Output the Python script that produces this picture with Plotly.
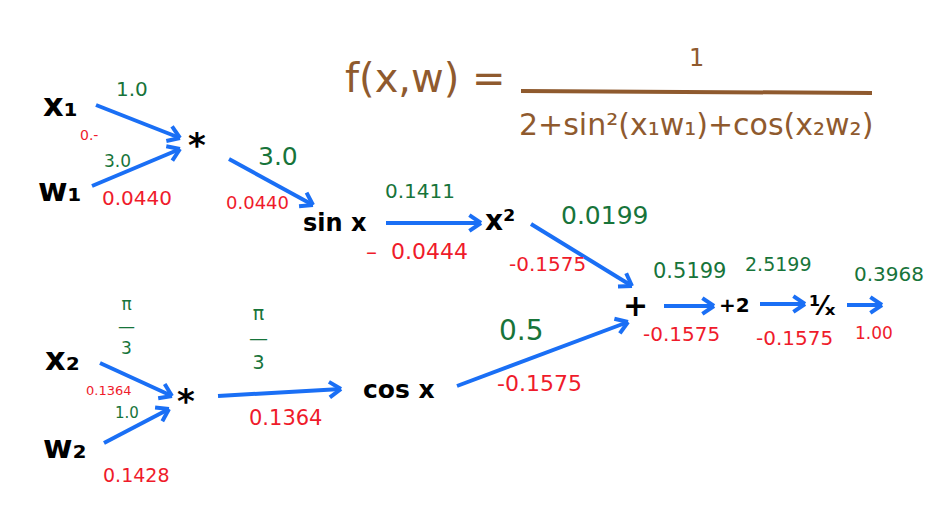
import math
import plotly.graph_objects as go

# computational graph of f(x,w) = 1 / (2 + sin^2(x1 w1) + cos(x2 w2))
node_labels = ["x₁", "w₁", "*", "sin x", "x²", "+", "+2", "¹⁄ₓ", "x₂", "w₂", "*", "cos x"]
edge_names = ["x1>*", "w1>*", "*>sin", "sin>sq", "sq>+", "cos>+", "+>+2", "+2>inv", "inv>out",
              "x2>*", "w2>*", "*>cos"]
forward_values = ["1.0", "3.0", "3.0", "0.1411", "0.0199", "0.5", "0.5199", "2.5199", "0.3968",
                  "π<br>—<br>3", "1.0", "π<br>—<br>3"]
gradients = ["0.-", "0.0440", "0.0440", "–  0.0444", "-0.1575", "-0.1575", "-0.1575", "-0.1575",
             "1.00", "0.1364", "0.1428", "0.1364"]
formula_left = "f(x,w) ="
formula_num = "1"
formula_den = "2+sin²(x₁w₁)+cos(x₂w₂)"

# positions (pixels of the page, y down)
node_pos = [(52, 97), (52, 182), (189, 137), (327, 215), (492, 212), (627, 297),
            (726, 297), (814, 298), (54, 351), (57, 439), (178, 393), (391, 381)]
node_size = [32, 32, 34, 24, 28, 30, 20, 26, 32, 32, 34, 25]
arrow_tail = [(88, 97), (84, 178), (221, 151), (378, 215), (523, 216), (449, 378),
              (656, 298), (752, 296), (839, 297), (92, 355), (96, 435), (210, 388)]
arrow_head = [(172, 130), (172, 141), (305, 197), (473, 215), (624, 278), (620, 314),
              (706, 298), (797, 296), (874, 297), (164, 388), (161, 401), (333, 381)]
fwd_pos = [(124, 81), (109, 153), (270, 148), (412, 183), (596, 207), (513, 322),
           (681, 263), (770, 256), (881, 266), (118, 318), (119, 405), (250, 329)]
fwd_size = [20, 17, 25, 20, 25, 28, 21, 19, 20, 17, 15, 19]
grad_pos = [(81, 127), (129, 190), (249, 194), (409, 243), (539, 256), (531, 375),
            (673, 326), (786, 330), (866, 325), (101, 382), (128, 467), (277, 410)]
grad_size = [14, 20, 18, 22, 20, 22, 20, 20, 17, 13, 19, 21]

GREEN = "#17743a"
RED = "#ef1b2b"
BLUE = "#1a6ff5"
BROWN = "#8f5a2e"
HAND = "DejaVu Sans"

fig = go.Figure()

# arrows: shafts and open chevron heads in one line trace
ax_x, ax_y = [], []
for (x0, y0), (x1, y1) in zip(arrow_tail, arrow_head):
    ang = math.atan2(y1 - y0, x1 - x0)
    ax_x += [x0, x1, None]
    ax_y += [y0, y1, None]
    for da in (2.55, -2.55):
        ax_x += [x1, x1 + 14 * math.cos(ang + da), None]
        ax_y += [y1, y1 + 14 * math.sin(ang + da), None]
fig.add_trace(go.Scatter(x=ax_x, y=ax_y, mode="lines", line=dict(color=BLUE, width=4),
                         hoverinfo="skip", showlegend=False))

for lab, (x, y), s in zip(node_labels, node_pos, node_size):
    fig.add_annotation(x=x, y=y, text="<b>" + lab + "</b>", showarrow=False,
                       font=dict(family=HAND, size=s, color="black"))

for v, (x, y), s in zip(forward_values, fwd_pos, fwd_size):
    fig.add_annotation(x=x, y=y, text=v, showarrow=False,
                       font=dict(family=HAND, size=s, color=GREEN))

for g, (x, y), s in zip(gradients, grad_pos, grad_size):
    fig.add_annotation(x=x, y=y, text=g, showarrow=False,
                       font=dict(family=HAND, size=s, color=RED))

# formula
fig.add_annotation(x=417, y=70, text=formula_left, showarrow=False,
                   font=dict(family=HAND, size=40, color=BROWN))
fig.add_annotation(x=688, y=50, text=formula_num, showarrow=False,
                   font=dict(family=HAND, size=24, color=BROWN))
fig.add_annotation(x=688, y=116, text=formula_den, showarrow=False,
                   font=dict(family=HAND, size=30, color=BROWN))
fig.add_shape(type="line", x0=513, y0=83, x1=864, y1=85, line=dict(color=BROWN, width=4))

fig.update_xaxes(range=[0, 951], visible=False, fixedrange=True)
fig.update_yaxes(range=[506, 0], visible=False, fixedrange=True)
fig.update_layout(width=951, height=506, margin=dict(l=0, r=0, t=0, b=0),
                  plot_bgcolor="white", paper_bgcolor="white", showlegend=False)

fig.write_html("out.html")
